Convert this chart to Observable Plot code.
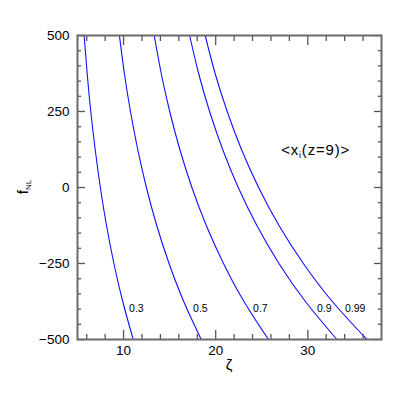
<!DOCTYPE html>
<html><head><meta charset="utf-8">
<script src="https://cdn.jsdelivr.net/npm/d3@7"></script>
<script src="https://cdn.jsdelivr.net/npm/@observablehq/plot@0.6"></script>
<style>body{margin:0;background:#fff}</style>
</head><body><div id="chart"></div>
<script>
// ----- data -----
const fNL = [500, 375, 250, 125, 0, -125, -250, -375, -500];
const zeta03  = [5.72, 6.05, 6.44, 6.92, 7.48, 8.15, 8.95, 9.91, 11.05];
const zeta05  = [9.55, 10.09, 10.75, 11.54, 12.48, 13.60, 14.94, 16.53, 18.43];
const zeta07  = [13.33, 14.09, 15.01, 16.11, 17.42, 18.98, 20.85, 23.07, 25.73];
const zeta09  = [17.17, 18.15, 19.34, 20.76, 22.45, 24.47, 26.87, 29.74, 33.16];
const zeta099 = [18.86, 19.94, 21.25, 22.80, 24.66, 26.87, 29.52, 32.66, 36.42];
const seriesNames = ["0.3", "0.5", "0.7", "0.9", "0.99"];
const labelZeta = [10.6, 17.55, 24.06, 31.0, 34.04];
const labelF = [-400, -400, -400, -400, -400];
const xMajor = [10, 20, 30];
const xMinor = [6, 8, 12, 14, 16, 18, 22, 24, 26, 28, 32, 34, 36];
const yMajor = [-500, -250, 0, 250, 500];
const yMinor = [-450, -400, -350, -300, -200, -150, -100, -50, 50, 100, 150, 200, 300, 350, 400, 450];
const annotZeta = 30.9, annotF = 105;

const allZeta = [zeta03, zeta05, zeta07, zeta09, zeta099];
const rows = [];
seriesNames.forEach((s, k) => fNL.forEach((f, i) => rows.push({s, zeta: allZeta[k][i], f})));
const labels = seriesNames.map((s, i) => ({s, zeta: labelZeta[i], f: labelF[i]}));

const tickColor = "#555";
const inX = (data, size, anchor) => Plot.axisX(data, {anchor, tickSize: size, dy: anchor === "bottom" ? -size : size, tickFormat: () => "", stroke: tickColor, strokeWidth: 1.3, label: null});
const inY = (data, size, anchor) => Plot.axisY(data, {anchor, tickSize: size, dx: anchor === "left" ? size : -size, tickFormat: () => "", stroke: tickColor, strokeWidth: 1.3, label: null});

const plot = Plot.plot({
  width: 415, height: 415,
  marginLeft: 77, marginRight: 34, marginTop: 35, marginBottom: 76,
  style: {fontFamily: "'Liberation Sans', Arial, sans-serif", fontSize: "13.5px", background: "#fff"},
  x: {domain: [5, 38], label: null},
  y: {domain: [-500, 500], label: null},
  marks: [
    Plot.line(rows, {x: "zeta", y: "f", z: "s", stroke: "#1010ff", strokeWidth: 1.1, curve: "natural"}),
    Plot.text(labels, {x: "zeta", y: "f", text: "s", textAnchor: "start", fontSize: 10.5, fill: "#000"}),
    inX(xMinor, 5, "bottom"), inX(xMajor, 9, "bottom"),
    inX(xMinor, 5, "top"), inX(xMajor, 9, "top"),
    inY(yMinor, 4, "left"), inY(yMajor, 8, "left"),
    inY(yMinor, 4, "right"), inY(yMajor, 8, "right"),
    Plot.axisX(xMajor, {anchor: "bottom", tickSize: 0, tickPadding: 6, label: null, fill: "#000"}),
    Plot.axisY(yMajor, {anchor: "left", tickSize: 0, tickPadding: 8, label: null, fill: "#000"}),
    Plot.frame({stroke: "#6a6a6a", strokeWidth: 2})
  ]
});
document.getElementById("chart").appendChild(plot);

const sx = plot.scale("x"), sy = plot.scale("y");
const svg = d3.select(plot);
// annotation <x_i(z=9)>
const a = svg.append("text")
  .attr("x", sx.apply(annotZeta)).attr("y", sy.apply(annotF))
  .attr("text-anchor", "middle").attr("font-size", 15).attr("letter-spacing", 0.8).attr("fill", "#000");
a.append("tspan").text("<x");
a.append("tspan").attr("font-size", 9).attr("dy", 3).text("i");
a.append("tspan").attr("dy", -3).text("(z=9)>");
// y axis label
const yl = svg.append("text")
  .attr("transform", `translate(28,${sy.apply(0)}) rotate(-90)`)
  .attr("text-anchor", "middle").attr("font-size", 15).attr("fill", "#000");
yl.append("tspan").text("f");
yl.append("tspan").attr("font-size", 8).attr("dy", 3).text("NL");
// x axis label
svg.append("text")
  .attr("x", sx.apply(21.5)).attr("y", 370)
  .attr("text-anchor", "middle").attr("font-size", 15).attr("fill", "#000").text("ζ");
</script>
</body></html>
